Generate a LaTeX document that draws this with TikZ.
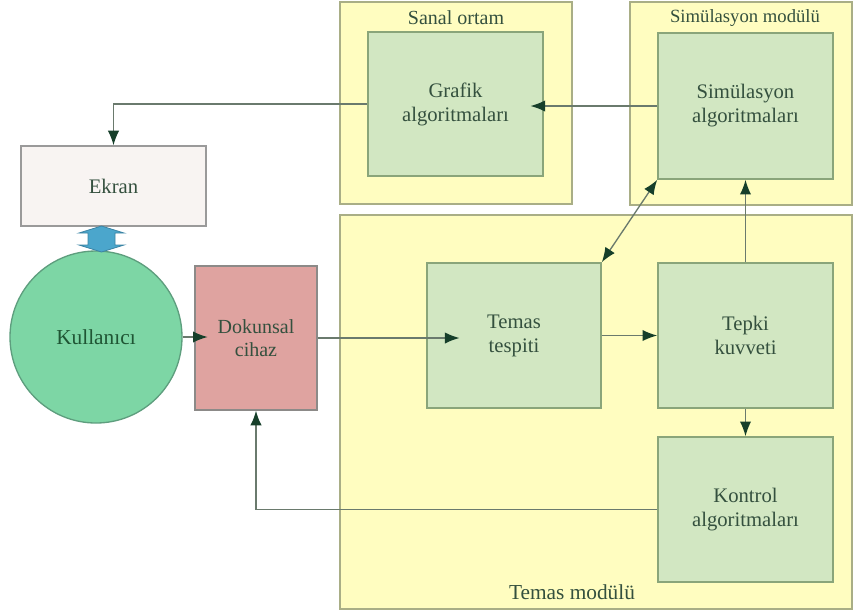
\documentclass[tikz,border=0pt]{standalone}
\usepackage{fontspec}
\setmainfont{Liberation Serif}
\usetikzlibrary{arrows.meta,calc}
\definecolor{yfill}{HTML}{FFFDC0}
\definecolor{ydraw}{HTML}{A9AE86}
\definecolor{gfill}{HTML}{D2E7C2}
\definecolor{gdraw}{HTML}{8AA57A}
\definecolor{efill}{HTML}{F8F4F2}
\definecolor{edraw}{HTML}{9A9A9A}
\definecolor{dfill}{HTML}{DFA3A0}
\definecolor{ddraw}{HTML}{8C8A88}
\definecolor{cfill}{HTML}{7DD6A5}
\definecolor{cdraw}{HTML}{5E9E7E}
\definecolor{bfill}{HTML}{4BA6CC}
\definecolor{bdraw}{HTML}{3C84A4}
\definecolor{linec}{HTML}{6A7A6D}
\definecolor{tipc}{HTML}{163F2A}
\definecolor{txt}{HTML}{34503E}
\definecolor{ktxt}{HTML}{1F5534}
\tikzset{
  module/.style={draw=ydraw, fill=yfill, line width=1.2pt, inner sep=0pt},
  algbox/.style={draw=gdraw, fill=gfill, line width=1.2pt, inner sep=0pt, align=center,
    text=txt, font=\fontsize{15.5}{18}\selectfont},
  ttl/.style={text=txt, font=\fontsize{14.5}{17}\selectfont, inner sep=0pt},
  conn/.style={draw=linec, line width=1pt, -{Latex[length=11pt,width=8.5pt,color=tipc]}},
  dconn/.style={draw=linec, line width=1pt, {Latex[length=11pt,width=8.5pt,color=tipc]}-{Latex[length=11pt,width=8.5pt,color=tipc]}},
}
\begin{document}
\begin{tikzpicture}[x=0.75pt,y=-0.75pt]
\useasboundingbox (0,0) rectangle (853,612);
% modules
\node[module, minimum width=232*0.75pt, minimum height=202*0.75pt] (sanal) at (456,103) {};
\node[ttl, font=\fontsize{15}{17}\selectfont] (sanalt) at (456,18) {Sanal ortam};
\node[module, minimum width=222*0.75pt, minimum height=203*0.75pt] (simmod) at (741,103.5) {};
\node[ttl, font=\fontsize{14}{17}\selectfont] (simmodt) at (745,18) {Simülasyon modülü};
\node[module, minimum width=512*0.75pt, minimum height=394*0.75pt] (temasmod) at (596,412) {};
\node[ttl, font=\fontsize{16}{18}\selectfont] (temasmodt) at (572,592) {Temas modülü};
% inner boxes
\node[algbox, minimum width=175*0.75pt, minimum height=144*0.75pt] (grafik) at (455.5,104) {Grafik\\algoritmaları};
\node[algbox, minimum width=175*0.75pt, minimum height=146*0.75pt] (simalg) at (745.5,106) {Simülasyon\\algoritmaları};
\node[algbox, minimum width=174*0.75pt, minimum height=145*0.75pt] (temas) at (514,335.5) {Temas\\tespiti};
\node[algbox, minimum width=175*0.75pt, minimum height=145*0.75pt] (tepki) at (745.5,335.5) {Tepki\\kuvveti};
\node[algbox, minimum width=175*0.75pt, minimum height=145*0.75pt] (kontrol) at (745.5,509.5) {Kontrol\\algoritmaları};
% left side
\node[draw=edraw, fill=efill, line width=1pt, minimum width=185*0.75pt, minimum height=80*0.75pt,
  text=txt, font=\fontsize{15.5}{18}\selectfont] (ekran) at (113.5,186) {Ekran};
\node[circle, draw=cdraw, fill=cfill, line width=1pt, minimum size=172*0.75pt, inner sep=0pt,
  text=ktxt, font=\fontsize{16}{18}\selectfont] (kull) at (96,337) {Kullanıcı};
\node[draw=ddraw, fill=dfill, line width=1pt, minimum width=122*0.75pt, minimum height=144*0.75pt,
  align=center, text=txt, font=\fontsize{15}{17.5}\selectfont] (dok) at (256,338) {Dokunsal\\cihaz};
% blue double arrow
\draw[fill=bfill, draw=bdraw, line width=0.6pt]
  (101.5,226) -- (124,233) -- (115,233) -- (115,245) -- (124,245) -- (101.5,252)
  -- (79,245) -- (88,245) -- (88,233) -- (79,233) -- cycle;
% connectors
\draw[conn] (grafik.west) -| (ekran.north);
\draw[conn] (simalg.west) -- ([xshift=-10pt]simalg.west -| grafik.east);
\draw[dconn] (temas.north east) -- (simalg.south west);
\draw[conn] (tepki.north) -- (simalg.south);
\draw[conn] (temas.east) -- (tepki.west);
\draw[conn] (tepki.south) -- (kontrol.north);
\draw[conn] (kontrol.west) -| (dok.south);
\draw[conn] (kull.east) -- ([xshift=10pt]kull.east -| dok.west);
\draw[conn] (dok.east) -- ([xshift=25pt]dok.east -| temas.west);
\end{tikzpicture}
\end{document}
